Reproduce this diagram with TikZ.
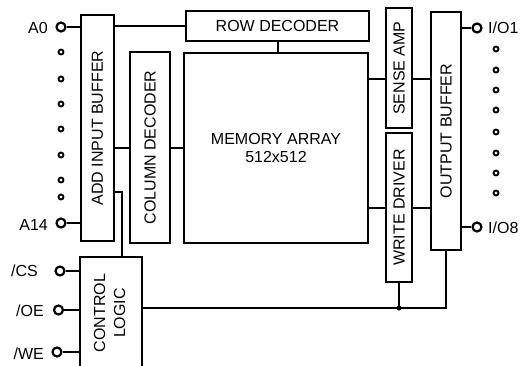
\documentclass[tikz,border=0pt]{standalone}
\usepackage{fontspec}
\setmainfont{Liberation Sans}
\begin{document}
\begin{tikzpicture}[x=1pt,y=-1pt,
  box/.style={draw, line width=2pt, rectangle, inner sep=0pt, font=\fontsize{16}{18}\selectfont, align=center},
  wire/.style={line width=2pt},
  pinc/.style={circle, draw, line width=2.2pt, minimum size=9pt, inner sep=0pt, fill=white},
  dotc/.style={circle, draw, line width=1.8pt, minimum size=5pt, inner sep=0pt},
  lbl/.style={font=\fontsize{16}{18}\selectfont, inner sep=0pt}]
\useasboundingbox (0,0) rectangle (525,365);
\clip (0,0) rectangle (525,365);
% boxes
\node[box, minimum width=33pt, minimum height=226pt] (buf) at (97.5,128) {\rotatebox{90}{ADD INPUT BUFFER}};
\node[box, minimum width=183pt, minimum height=30pt] (rowdec) at (277.5,26) {ROW DECODER};
\node[box, minimum width=40pt, minimum height=191pt] (coldec) at (150,147.5) {\rotatebox{90}{COLUMN DECODER}};
\node[box, minimum width=184pt, minimum height=190pt] (mem) at (276,148) {MEMORY ARRAY\\512x512};
\node[box, minimum width=26pt, minimum height=120pt] (sense) at (399,68) {\rotatebox{90}{SENSE AMP}};
\node[box, minimum width=26pt, minimum height=149pt] (wd) at (399,207.5) {\rotatebox{90}{WRITE DRIVER}};
\node[box, minimum width=30pt, minimum height=238pt] (obuf) at (446,131) {\rotatebox{90}{OUTPUT BUFFER}};
\node[box, minimum width=62pt, minimum height=112pt] (ctrl) at (111,313) {\rotatebox{90}{\fontsize{16}{20}\selectfont\begin{tabular}{@{}c@{}}CONTROL\\LOGIC\end{tabular}}};
% pins
\node[pinc] (a0) at (61,27) {};
\node[pinc] (a14) at (61,223) {};
\node[pinc] (cs) at (60,271) {};
\node[pinc] (oe) at (58.5,310) {};
\node[pinc] (we) at (57,352) {};
\node[pinc] (io1) at (477,28) {};
\node[pinc] (io8) at (477,227) {};
% dots
\foreach \yy [count=\i] in {52,79,104,129,155,180,197} \node[dotc] (ld\i) at (61,\yy) {};
\foreach \yy [count=\i] in {49,70,90,110,132,153,173,193} \node[dotc] (rd\i) at (496,\yy) {};
% labels
\node[lbl, anchor=base east] (la0) at (48,33) {A0};
\node[lbl, anchor=base east] (la14) at (48,230) {A14};
\node[lbl, anchor=base east] (lcs) at (38,276) {/CS};
\node[lbl, anchor=base east] (loe) at (44,316) {/OE};
\node[lbl, anchor=base east] (lwe) at (44,359) {/WE};
\node[lbl, anchor=base west] (lio1) at (488,33) {I/O1};
\node[lbl, anchor=base west] (lio8) at (488,233) {I/O8};
% helper levels
\coordinate (cl1) at (122,192);
\coordinate (ys) at (0,79);
\coordinate (yb) at (0,308);
% wires
\draw[wire] (a0) -- (buf.west |- a0);
\draw[wire] (a14) -- (buf.west |- a14);
\draw[wire] (buf.east |- rowdec.west) -- (rowdec.west);
\draw[wire] (rowdec.south) -- (rowdec.south |- mem.north);
\draw[wire] (buf.east |- coldec.west) -- (coldec.west);
\draw[wire] (coldec.east) -- (mem.west |- coldec.east);
\draw[wire] (buf.east |- cl1) -- (cl1) -- (cl1 |- ctrl.north);
\draw[wire] (mem.east |- ys) -- (sense.west |- ys);
\draw[wire] (sense.east |- ys) -- (obuf.west |- ys);
\draw[wire] (mem.east |- wd.west) -- (wd.west);
\draw[wire] (wd.east) -- (obuf.west |- wd.east);
\draw[wire] (obuf.east |- io1) -- (io1);
\draw[wire] (obuf.east |- io8) -- (io8);
\draw[wire] (cs) -- (ctrl.west |- cs);
\draw[wire] (oe) -- (ctrl.west |- oe);
\draw[wire] (we) -- (ctrl.west |- we);
\draw[wire] (ctrl.east |- yb) -- (obuf.south |- yb) -- (obuf.south);
\draw[wire] (wd.south) -- (wd.south |- yb);
\node[circle, fill, minimum size=5pt, inner sep=0pt] (jn) at (wd.south |- yb) {};
\end{tikzpicture}
\end{document}
